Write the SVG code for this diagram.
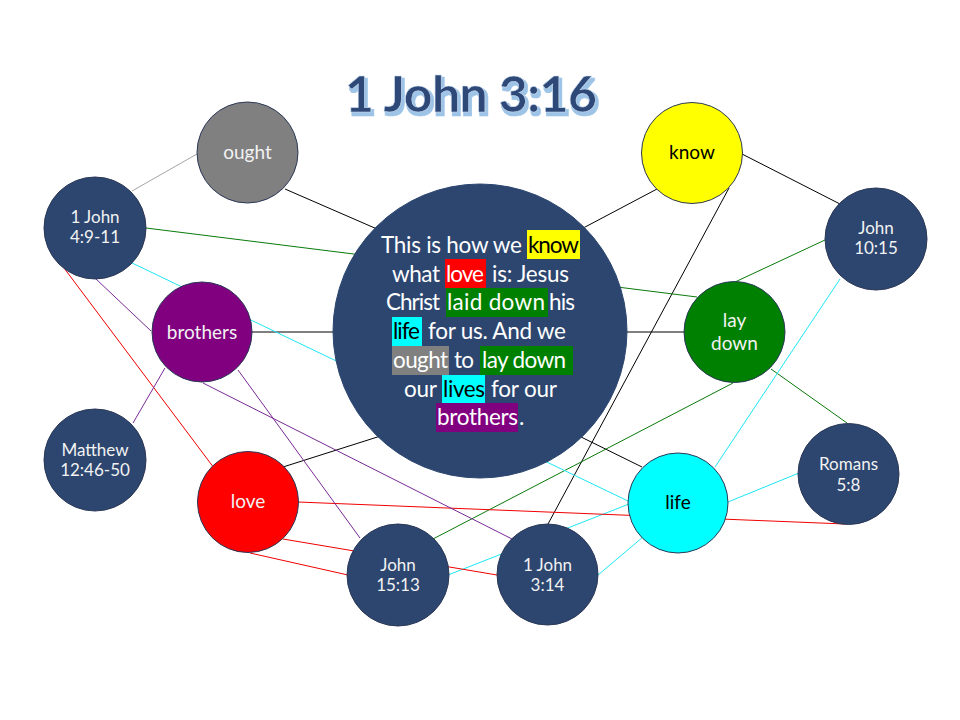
<svg xmlns="http://www.w3.org/2000/svg" width="960" height="720" viewBox="0 0 960 720">
<defs>
<filter id="tshadow" x="-10%" y="-20%" width="120%" height="150%">
<feMorphology in="SourceAlpha" operator="dilate" radius="0.8" result="thick"/>
<feOffset in="thick" dx="2" dy="2.5" result="off"/>
<feFlood flood-color="#9DC3E6"/>
<feComposite in2="off" operator="in" result="shadow"/>
<feMerge><feMergeNode in="shadow"/><feMergeNode in="SourceGraphic"/></feMerge>
</filter>
</defs>
<style>
.ln{stroke-width:1;fill:none}
.k{stroke:#000}
.g{stroke:#0A7A0A}
.c{stroke:#1EE6F2}
.r{stroke:#F00000}
.p{stroke:#7A2A96}
.gr{stroke:#A6A6A6}
.node{stroke:#2B3856;stroke-width:1}
.navy{fill:#2C4670}
.lbl{font-family:Lato,"Liberation Sans",sans-serif;fill:#F2F2F2;text-anchor:middle}
.s1{font-size:19px}
.s2{font-size:17px}
.dark{fill:#000}
.vt{font-family:Lato,"Liberation Sans",sans-serif;font-size:22.5px;fill:#fff}
.vt.dark{fill:#000}
.title{font-family:Lato,"Liberation Sans",sans-serif;font-weight:bold;font-size:50px;text-anchor:middle}
</style>
<rect x="0" y="0" width="960" height="720" fill="#fff"/>

<g id="title">
<text class="title" x="471" y="112" fill="#2D4878" stroke="#C9DCF0" stroke-width="0.6" textLength="252" filter="url(#tshadow)">1 John 3:16</text>
</g>

<g id="connectors">
<line class="ln gr" x1="132" y1="191" x2="197" y2="154"/>
<line class="ln k" x1="285" y1="189" x2="400" y2="239"/>
<line class="ln k" x1="250" y1="332" x2="340" y2="332"/>
<line class="ln k" x1="620" y1="332" x2="690" y2="332"/>
<line class="ln k" x1="657" y1="189" x2="570" y2="235"/>
<line class="ln k" x1="742" y1="154" x2="840" y2="204"/>
<line class="ln k" x1="729" y1="188" x2="548" y2="524"/>
<line class="ln k" x1="283" y1="467" x2="390" y2="433"/>
<line class="ln k" x1="575" y1="434" x2="642" y2="467"/>
<line class="ln g" x1="146" y1="228" x2="697" y2="297"/>
<line class="ln g" x1="825" y1="240" x2="735" y2="282"/>
<line class="ln g" x1="771" y1="369" x2="847" y2="423"/>
<line class="ln g" x1="733" y1="383" x2="433" y2="539"/>
<line class="ln c" x1="130" y1="262" x2="628" y2="501"/>
<line class="ln c" x1="840" y1="279" x2="715" y2="467"/>
<line class="ln c" x1="728" y1="502" x2="799" y2="473"/>
<line class="ln c" x1="629" y1="504" x2="448" y2="575"/>
<line class="ln c" x1="643" y1="537" x2="598" y2="575"/>
<line class="ln r" x1="64" y1="268" x2="214" y2="468"/>
<line class="ln r" x1="298" y1="502" x2="845" y2="524"/>
<line class="ln r" x1="283" y1="539" x2="497" y2="575"/>
<line class="ln r" x1="250" y1="553" x2="348" y2="575"/>
<line class="ln p" x1="96" y1="279" x2="151" y2="331"/>
<line class="ln p" x1="165" y1="368" x2="133" y2="423"/>
<line class="ln p" x1="238" y1="370" x2="360" y2="538"/>
<line class="ln p" x1="203" y1="383" x2="512" y2="539"/>
</g>

<g id="node-verse">
<circle class="navy" cx="480" cy="331" r="147" stroke="#2C4670"/>
<rect x="527" y="230" width="53" height="29" fill="#FFFF00"/>
<rect x="445" y="259" width="41" height="29" fill="#FF0000"/>
<rect x="446" y="288" width="102" height="29" fill="#008000"/>
<rect x="392" y="317" width="30" height="29" fill="#00FFFF"/>
<rect x="392" y="346" width="57" height="29" fill="#808080"/>
<rect x="480" y="346" width="93" height="29" fill="#008000"/>
<rect x="442" y="375" width="43" height="28" fill="#00FFFF"/>
<rect x="436" y="403" width="82" height="29" fill="#800080"/>
<text class="vt" x="381" y="253" textLength="141">This is how we</text>
<text class="vt dark" x="528" y="253" textLength="51">know</text>
<text class="vt" x="392" y="282" textLength="48">what</text>
<text class="vt" x="446" y="282" textLength="38">love</text>
<text class="vt" x="492" y="282" textLength="77">is: Jesus</text>
<text class="vt" x="386" y="310" textLength="54">Christ</text>
<text class="vt" x="447" y="310" textLength="98">laid down</text>
<text class="vt" x="549" y="310" textLength="26">his</text>
<text class="vt dark" x="393" y="339" textLength="27">life</text>
<text class="vt" x="428" y="339" textLength="138">for us. And we</text>
<text class="vt" x="393" y="368" textLength="55">ought</text>
<text class="vt" x="454" y="368" textLength="20">to</text>
<text class="vt" x="482" y="368" textLength="84">lay down</text>
<text class="vt" x="404" y="397" textLength="33">our</text>
<text class="vt dark" x="443" y="397" textLength="42">lives</text>
<text class="vt" x="491" y="397" textLength="66">for our</text>
<text class="vt" x="437" y="425" textLength="81">brothers</text>
<text class="vt" x="519" y="425">.</text>
</g>

<g id="node-ought">
<circle class="node" cx="247.5" cy="152.5" r="50.5" fill="#808080"/>
<text class="lbl s1" x="247.5" y="159">ought</text>
</g>
<g id="node-1john4">
<circle class="node navy" cx="95" cy="228" r="51"/>
<text class="lbl s2" x="95" y="223">1 John</text>
<text class="lbl s2" x="95" y="243">4:9-11</text>
</g>
<g id="node-brothers">
<circle class="node" cx="202" cy="332" r="50" fill="#800080"/>
<text class="lbl s1" x="202" y="339">brothers</text>
</g>
<g id="node-know">
<circle class="node" cx="692" cy="153" r="50.5" fill="#FFFF00"/>
<text class="lbl s1 dark" x="692" y="159">know</text>
</g>
<g id="node-john10">
<circle class="node navy" cx="876" cy="239" r="51"/>
<text class="lbl s2" x="876" y="234">John</text>
<text class="lbl s2" x="876" y="254">10:15</text>
</g>
<g id="node-laydown">
<circle class="node" cx="734.5" cy="332" r="50.5" fill="#008000"/>
<text class="lbl s1" x="734.5" y="327">lay</text>
<text class="lbl s1" x="734.5" y="350">down</text>
</g>
<g id="node-matthew">
<circle class="node navy" cx="95" cy="460" r="51"/>
<text class="lbl s2" x="95" y="456">Matthew</text>
<text class="lbl s2" x="95" y="476">12:46-50</text>
</g>
<g id="node-love">
<circle class="node" cx="248" cy="502" r="50.5" fill="#FF0000"/>
<text class="lbl s1" x="248" y="508">love</text>
</g>
<g id="node-john15">
<circle class="node navy" cx="398" cy="575" r="51"/>
<text class="lbl s2" x="398" y="571">John</text>
<text class="lbl s2" x="398" y="591">15:13</text>
</g>
<g id="node-1john3">
<circle class="node navy" cx="547.5" cy="574.5" r="50.5"/>
<text class="lbl s2" x="547.5" y="571">1 John</text>
<text class="lbl s2" x="547.5" y="591">3:14</text>
</g>
<g id="node-life">
<circle class="node" cx="678" cy="503" r="50" fill="#00FFFF"/>
<text class="lbl s1 dark" x="678" y="509">life</text>
</g>
<g id="node-romans">
<circle class="node navy" cx="848.5" cy="474" r="50.5"/>
<text class="lbl s2" x="848.5" y="470">Romans</text>
<text class="lbl s2" x="848.5" y="491">5:8</text>
</g>
</svg>
